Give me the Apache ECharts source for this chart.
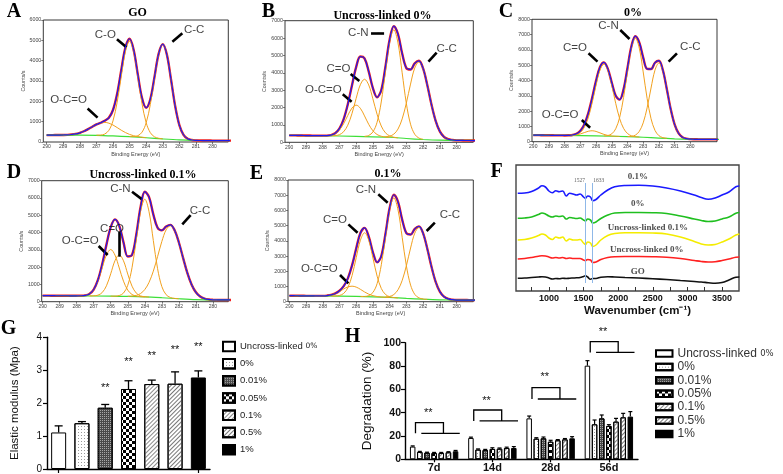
<!DOCTYPE html>
<html><head><meta charset="utf-8">
<script src="https://cdn.jsdelivr.net/npm/echarts@6/dist/echarts.min.js"></script>
<style>html,body{margin:0;padding:0;background:#fff}#c{width:783px;height:474px}</style>
</head><body><div id="c"></div>
<script>
// ---------- XPS data (binding energy grid, eV) ----------
const energy = [290,289.75,289.5,289.25,289,288.75,288.5,288.25,288,287.75,287.5,287.25,287,286.75,286.5,286.25,286,285.75,285.5,285.25,285,284.75,284.5,284.25,284,283.75,283.5,283.25,283,282.75,282.5,282.25,282,281.75,281.5,281.25,281,280.75,280.5,280.25,280,279.75,279.5,279.25,279,278.75,278.5,278.25];
const bindingTicks = [280,281,282,283,284,285,286,287,288,289,290];

const A_env = [340,340,341,342,345,352,369,397,452,529,633,752,865,941,1040,1190,1573,2368,3539,4650,5077,4514,3300,2156,1685,2105,3191,4336,4815,4289,3061,1757,832,355,163,100,80,74,72,71,70,70,70,70,70,70,70,70];
const A_base = [[290,340],[288,340],[287,330],[286,300],[285,260],[284,210],[283,150],[282,100],[281,75],[280,70],[278,70]];
const A_OCO = [[289,345],[288.5,369],[288,452],[287.5,633],[287,865],[286.5,965],[286,835],[285.5,578],[285,372],[284.5,264],[284,215]];
const A_CO = [[287,335],[286.75,341],[286.5,390],[286.25,571],[286,1038],[285.75,1949],[285.5,3241],[285.25,4458],[285,4960],[284.75,4436],[284.5,3196],[284.25,1881],[284,948],[283.75,458],[283.5,255],[283.25,184],[283,155]];
const A_CC = [[285,265],[284.75,267],[284.5,310],[284.25,483],[284,942],[283.75,1840],[283.5,3116],[283.25,4317],[283,4810],[282.75,4289],[282.5,3061],[282.25,1757],[282,832],[281.75,355],[281.5,163],[281.25,100],[281,80]];
const A_notes = [['O-C=O',288.68,2056],['C-O',286.46,5263],['C-C',281.11,5510]];
const A_arrows = [[287.53,1645,286.93,1200],[285.76,5049,285.19,4655],[281.82,5345,282.42,4934]];

const B_env = [400,398,395,393,390,388,385,383,382,386,417,523,785,1317,2176,3273,4325,4936,4834,4081,3124,2591,2997,4341,5901,6690,6234,5109,4273,4188,4544,4693,4253,3296,2178,1238,627,314,177,131,110,108,105,103,100,100,100,100];
const B_base = [[290,400],[288,380],[286,340],[284,290],[283,220],[282,160],[281,120],[280,110],[278,100]];
const B_OCO = [[288,382],[287.75,386],[287.5,413],[287.25,502],[287,706],[286.75,1066],[286.5,1542],[286.25,1969],[286,2140],[285.75,1959],[285.5,1522],[285.25,1036],[285,666],[284.75,450],[284.5,348],[284.25,309],[284,292]];
const B_CO = [[287.5,374],[287.25,386],[287,439],[286.75,606],[286.5,984],[286.25,1649],[286,2525],[285.75,3312],[285.5,3630],[285.25,3302],[285,2505],[284.75,1617],[284.5,939],[284.25,549],[284,369],[283.75,294],[283.5,259]];
const B_CN = [[285.5,342],[285.25,393],[285,593],[284.75,1150],[284.5,2320],[284.25,4061],[284,5758],[283.75,6473],[283.5,5723],[283.25,4001],[283,2235],[282.75,1042],[282.5,463],[282.25,243],[282,172]];
const B_CC = [[284.25,316],[284,352],[283.75,469],[283.5,762],[283.25,1346],[283,2258],[282.75,3351],[282.5,4271],[282.25,4625],[282,4241],[281.75,3296],[281.5,2178],[281.25,1238],[281,627],[280.75,314],[280.5,177],[280.25,131]];
const B_notes = [['C-N',285.87,6329],['C=O',287.06,4258],['O-C=O',287.96,3049],['C-C',280.59,5408]];
const B_arrows = [[285.11,6272,284.33,6272],[286.33,3932,285.81,3529],[286.8,2762,286.27,2340],[281.19,5159,281.68,4641]];

const C_env = [430,428,425,423,420,418,415,413,410,417,439,514,714,1131,1851,2868,3994,4885,5185,4759,3853,3000,2753,3422,4813,6233,6897,6495,5501,4762,4747,5163,5295,4687,3467,2139,1131,555,293,197,166,158,155,153,150,150,150,150];
const C_base = [[290,430],[288,410],[286,380],[284,330],[283,290],[282,240],[281,190],[280,160],[279,150],[278,150]];
const C_OCO = [[288,410],[287.5,420],[287.25,448],[287,507],[286.75,595],[286.5,681],[286.25,715],[286,671],[285.75,575],[285.5,477],[285.25,410],[285,375],[284.5,345]];
const C_CO = [[287.75,413],[287.5,424],[287.25,469],[287,607],[286.75,931],[286.5,1560],[286.25,2538],[286,3703],[285.75,4685],[285.5,5070],[285.25,4675],[285,3683],[284.75,2506],[284.5,1515],[284.25,874],[284,537],[283.75,386],[283.5,329],[283.25,305]];
const C_CN = [[285.5,378],[285.25,404],[285,515],[284.75,843],[284.5,1583],[284.25,2886],[284,4600],[283.75,6138],[283.5,6760],[283.25,6118],[283,4560],[282.75,2826],[282.5,1503],[282.25,743],[282,395],[281.75,267],[281.5,223]];
const C_CC = [[284,336],[283.75,349],[283.5,428],[283.25,672],[283,1231],[282.75,2214],[282.5,3509],[282.25,4673],[282,5140],[281.75,4648],[281.5,3459],[281.25,2139],[281,1131],[280.75,555],[280.5,293],[280.25,197],[280,166]];
const C_notes = [['C=O',287.34,6104],['C-N',285.21,7564],['C-C',280.0,6213],['O-C=O',288.29,1744]];
const C_arrows = [[286.48,5777,285.91,5232],[284.46,7302,283.87,6714],[280.85,5777,281.38,5232],[286.91,1417,286.38,916]];

const D_env = [350,349,348,346,345,344,343,341,340,343,365,452,705,1256,2168,3302,4314,4761,4395,3434,2616,2708,3881,5459,6364,6054,5050,4275,4129,4345,4443,4132,3425,2523,1657,986,544,300,181,130,108,100,100,100,100,100,100,100];
const D_base = [[290,350],[288,340],[286,320],[285,305],[284,280],[283,230],[282,170],[281,120],[280,100],[278,100]];
const D_OCO = [[288,340],[287.75,343],[287.5,365],[287.25,452],[287,695],[286.75,1206],[286.5,1964],[286.25,2704],[286,3020],[285.75,2697],[285.5,1952],[285.25,1187],[285,670],[284.75,418],[284.5,323],[284.25,291],[284,280]];
const D_CO = [[287.25,333],[287,340],[286.75,378],[286.5,529],[286.25,921],[286,1614],[285.75,2373],[285.5,2713],[285.25,2366],[285,1599],[284.75,897],[284.5,497],[284.25,336],[284,290],[283.75,268]];
const D_CN = [[286,320],[285.75,323],[285.5,356],[285.25,499],[285,949],[284.75,1966],[284.5,3576],[284.25,5219],[284,5930],[283.75,5201],[283.5,3538],[283.25,1910],[283,874],[282.75,405],[282.5,243],[282.25,192],[282,170]];
const D_CC = [[285,313],[284.75,324],[284.5,364],[284.25,471],[284,704],[283.75,1121],[283.5,1767],[283.25,2608],[283,3485],[282.75,4155],[282.5,4400],[282.25,4125],[282,3425],[281.75,2523],[281.5,1657],[281.25,986],[281,544],[280.75,300],[280.5,181],[280.25,130],[280,108],[279.75,100]];
const D_notes = [['C-N',285.43,6556],['C=O',285.92,4242],['O-C=O',287.79,3509],['C-C',280.76,5264]];
const D_arrows = [[284.75,6363,284.16,5920],[285.47,4049,285.47,2603],[286.71,3220,286.18,2700],[281.31,5013,281.8,4474]];

const E_env = [395,393,390,388,385,383,380,381,384,402,446,543,718,1019,1536,2385,3508,4517,4853,4269,3233,2588,3005,4473,6169,7030,6563,5381,4502,4413,4791,4951,4488,3478,2298,1305,661,328,184,133,110,109,108,106,105,105,105,105];
const E_base = [[290,395],[288,375],[286,345],[285,320],[284,280],[283,220],[282,165],[281,125],[280,110],[279,105],[278,105]];
const E_OCO = [[288.5,380],[288.25,381],[288,384],[287.75,402],[287.5,446],[287.25,535],[287,672],[286.75,834],[286.5,969],[286.25,1020],[286,959],[285.75,813],[285.5,640],[285.25,493],[285,396],[284.75,339],[284.5,309],[284.25,293],[284,280]];
const E_CO = [[287.5,370],[287.25,376],[287,411],[286.75,545],[286.5,922],[286.25,1715],[286,2894],[285.75,4043],[285.5,4533],[285.25,4030],[285,2869],[284.75,1675],[284.5,867],[284.25,475],[284,326],[283.75,273],[283.5,250]];
const E_CN = [[285.75,339],[285.5,346],[285.25,398],[285,608],[284.75,1194],[284.5,2429],[284.25,4266],[284,6057],[283.75,6815],[283.5,6027],[283.25,4211],[283,2349],[282.75,1090],[282.5,481],[282.25,251],[282,178],[281.75,155]];
const E_CC = [[284.25,309],[284,346],[283.75,472],[283.5,786],[283.25,1405],[283,2373],[282.75,3529],[282.5,4503],[282.25,4879],[282,4475],[281.75,3478],[281.5,2298],[281.25,1305],[281,661],[280.75,328],[280.5,184],[280.25,133]];
const E_notes = [['C-N',285.42,7342],['C=O',287.27,5370],['C-C',280.4,5699],['O-C=O',288.21,2192]];
const E_arrows = [[284.68,7058,284.12,6510],[286.47,5085,285.92,4537],[281.3,5195,281.79,4647],[286.97,1753,286.47,1205]];

// ---------- FTIR data ----------
const ftirWn = [550,650,750,850,900,950,1000,1050,1100,1150,1200,1250,1300,1350,1400,1450,1500,1527,1560,1600,1633,1680,1750,1850,1950,2100,2300,2500,2700,2900,3100,3200,3300,3400,3500,3600,3700,3750];
const ftir01 = [97.7,98,99.5,103,105.3,104,100,98.3,100.3,99.3,100,95,97.7,97,96,97,94,92.7,95,94,90.3,91.5,96,101,104.3,105.5,105.7,105,103,100,96,93.5,91.7,93,96,99,104.3,105];
const ftir0 = [72.7,73,74,76.5,78,77,75,74,75,74.5,75,72,73.5,73,72.5,73,71,70,72,71,68,69,72.5,76,78,78.5,78.5,78.3,77.5,75,72,70.5,69.5,70,72,74,77.7,78.5];
const ftirU01 = [51,51.5,53,55.5,57,56,53,51.5,54,53,54,50,52,51,51,51.5,48,46.5,49,48,44.5,46,51,55.5,57.5,58.3,58.3,58,57,54,49.5,47,46,46.5,49,52,56,57];
const ftirU0 = [32,32.5,33.5,34.8,35.3,35,34,33,33.5,33,33.5,32.5,33,32.5,32.5,32.5,31,30.5,31.5,31,28.5,29,31.5,33.5,34.3,34.5,34.5,34.3,33.8,32.5,30.5,29.5,29,29.3,30.5,32,33.8,34];
const ftirGO = [12.7,13,13.5,14,14.3,14,13,12,12.5,12.3,12.8,12.5,12.8,13,13.2,13.5,14.5,15.2,14,11.7,12.5,12.5,13.8,14.3,14,13.5,13,12.3,11.5,10.5,9.5,9,8.3,7.7,8.5,11,13.7,14];
const ftirPeaks = [1527, 1633];
const ftirTickLabels = [1000,1500,2000,2500,3000,3500];
const ftirTicks = [750,1000,1250,1500,1750,2000,2250,2500,2750,3000,3250,3500];
const ftirNames = [['0.1%',2284,114],['0%',2284,87],['Uncross-linked 0.1%',2429,63],['Uncross-linked 0%',2414,41],['GO',2284,19]];

// ---------- Elastic modulus (G) ----------
const groupNames = ['Uncross-linked 0%','0%','0.01%','0.05%','0.1%','0.5%','1%'];
const gMean = [1.11,1.39,1.86,2.43,2.58,2.59,2.78];
const gErr = [1.31,1.44,1.96,2.68,2.70,2.95,2.98];
const gStarY = [null,null,2.45,3.26,3.44,3.62,3.72];

// ---------- Degradation (H) ----------
const hDays = ['7d','14d','28d','56d'];
const hMean = [
  [10.9,18.3,35.1,80.3],
  [6.3,8.3,17.7,30.0],
  [5.7,8.0,18.0,35.1],
  [5.4,8.9,15.1,28.6],
  [5.4,9.1,16.3,32.3],
  [6.0,9.7,17.1,36.0],
  [6.9,9.7,18.0,36.6]
];
const hErr = [
  [11.5,19.0,37.1,84.6],
  [6.8,8.9,18.5,33.7],
  [6.1,8.5,19.1,38.0],
  [5.9,9.9,16.3,29.7],
  [5.9,9.7,16.9,35.1],
  [6.5,10.4,17.8,39.4],
  [7.6,10.9,19.4,40.9]
];
const hBracketBase = [22.3,32.9,51.7,91.7];
const hBracketTop = [31.4,42.3,61.4,100.9];
const hStarY = [39.5,50,70.3,109.4];

// ---------- styles ----------
const RED='#f01e1e', BLUE='#1c1cf0', ORANGE='#f2a11e', GREEN='#3ddf38';
const SANS='"Liberation Sans", Arial, sans-serif', SERIF='"Liberation Serif", "Times New Roman", serif';
const plainNum = v => String(v);
const barStyles = [
  {color:'#ffffff'},
  {color:'#ffffff', decal:{symbol:'rect', symbolSize:1, dashArrayX:[1,1.5], dashArrayY:[1,1.5], color:'#9a9a9a'}},
  {color:'#4a4a4a', decal:{symbol:'rect', symbolSize:1, dashArrayX:[1,1], dashArrayY:[1,1], color:'#a8a8a8'}},
  {color:'#ffffff', decal:{symbol:'rect', symbolSize:1, dashArrayX:[[3,3],[0,3,3,0]], dashArrayY:[3,0], color:'#000'}},
  {color:'#ffffff', decal:{symbol:'rect', symbolSize:1, rotation:-Math.PI/4, dashArrayX:[1,0], dashArrayY:[1,2], color:'#8a8a8a'}},
  {color:'#ffffff', decal:{symbol:'rect', symbolSize:1, rotation:-Math.PI/4, dashArrayX:[1,0], dashArrayY:[1,1.2], color:'#777'}},
  {color:'#000000'}
];

const xps = [
  {grid:{left:43.3, top:20, width:185, height:122}, min:279.05, max:290.2, ymax:6000, env:A_env, base:A_base, comps:[A_OCO,A_CO,A_CC], notes:A_notes, arrows:A_arrows},
  {grid:{left:285, top:20.7, width:188.3, height:121.6}, min:279, max:290.25, ymax:7000, env:B_env, base:B_base, comps:[B_OCO,B_CO,B_CN,B_CC], notes:B_notes, arrows:B_arrows},
  {grid:{left:532, top:19.3, width:185, height:122.4}, min:278.3, max:290.08, ymax:8000, env:C_env, base:C_base, comps:[C_OCO,C_CO,C_CN,C_CC], notes:C_notes, arrows:C_arrows},
  {grid:{left:41.7, top:180.7, width:186.6, height:121}, min:279.1, max:290.05, ymax:7000, env:D_env, base:D_base, comps:[D_OCO,D_CO,D_CN,D_CC], notes:D_notes, arrows:D_arrows},
  {grid:{left:288, top:180, width:185.3, height:121.7}, min:279, max:290.08, ymax:8000, env:E_env, base:E_base, comps:[E_OCO,E_CO,E_CN,E_CC], notes:E_notes, arrows:E_arrows}
];

const grids=[], xAxes=[], yAxes=[], series=[];
xps.forEach((p,k)=>{
  grids.push(Object.assign({show:true, borderColor:'#222', borderWidth:0.9, backgroundColor:'#fff'}, p.grid));
  xAxes.push({type:'value', gridIndex:k, inverse:true, min:p.min, max:p.max,
    axisLine:{show:false}, splitLine:{show:false},
    axisTick:{show:true, length:2, customValues:bindingTicks, lineStyle:{color:'#444', width:0.7}},
    axisLabel:{customValues:bindingTicks, formatter:plainNum, fontSize:5, color:'#444', margin:2.5, fontFamily:SANS},
    name:'Binding Energy (eV)', nameLocation:'middle', nameGap:9, nameTextStyle:{fontSize:5.5, color:'#444', fontFamily:SANS}});
  yAxes.push({type:'value', gridIndex:k, min:0, max:p.ymax, interval:1000,
    axisLine:{show:false}, splitLine:{show:false},
    axisTick:{show:true, length:2, lineStyle:{color:'#444', width:0.7}},
    axisLabel:{formatter:plainNum, fontSize:5.3, color:'#444', margin:2, fontFamily:SANS},
    name:'Counts/s', nameLocation:'middle', nameGap:17, nameTextStyle:{fontSize:5.3, color:'#444', fontFamily:SANS}});
  const envPairs = energy.map((e,i)=>[e,p.env[i]]);
  series.push({type:'line', xAxisIndex:k, yAxisIndex:k, data:envPairs, showSymbol:false, smooth:0.35, lineStyle:{color:RED, width:2.4}, z:2, silent:true});
  series.push({type:'line', xAxisIndex:k, yAxisIndex:k, data:p.base, showSymbol:false, smooth:0.3, lineStyle:{color:GREEN, width:1.2}, z:3, silent:true});
  p.comps.forEach(c=>series.push({type:'line', xAxisIndex:k, yAxisIndex:k, data:c, showSymbol:false, smooth:0.35, lineStyle:{color:ORANGE, width:1}, z:4, silent:true}));
  series.push({type:'line', xAxisIndex:k, yAxisIndex:k, data:envPairs, showSymbol:false, smooth:0.35, lineStyle:{color:BLUE, width:1.2}, z:5, silent:true});
  series.push({type:'scatter', xAxisIndex:k, yAxisIndex:k, z:6, silent:true,
    data:p.notes.map(n=>({name:n[0], value:[n[1],n[2]]})), symbolSize:1, itemStyle:{color:'rgba(0,0,0,0)'},
    label:{show:true, position:'inside', formatter:'{b}', fontSize:11.5, color:'#111', fontFamily:SANS},
    markLine:{silent:true, symbol:['none','arrow'], symbolSize:[1,7], animation:false,
      lineStyle:{color:'#000', width:2.6, type:'solid'}, label:{show:false},
      data:p.arrows.map(a=>[{coord:[a[0],a[1]]},{coord:[a[2],a[3]]}])}});
});

// ----- F (FTIR) -----
grids.push({left:516, top:165, width:223, height:126, show:true, borderColor:'#444', borderWidth:1.4});
xAxes.push({type:'value', gridIndex:5, min:525, max:3745, axisLine:{show:false}, splitLine:{show:false},
  axisTick:{show:true, inside:true, length:4, customValues:ftirTicks, lineStyle:{color:'#333'}},
  axisLabel:{customValues:ftirTickLabels, formatter:plainNum, fontSize:9, fontWeight:'bold', color:'#111', margin:3, fontFamily:SANS},
  name:'Wavenumber (cm⁻¹)', nameLocation:'middle', nameGap:14,
  nameTextStyle:{fontSize:11.5, fontWeight:'bold', color:'#111', fontFamily:SANS, padding:[0,0,0,20]}});
yAxes.push({type:'value', gridIndex:5, min:0, max:126, show:false});
const ftirSets = [[ftir01,'#1a1aff'],[ftir0,'#1fbf1f'],[ftirU01,'#f4ec00'],[ftirU0,'#ff2020'],[ftirGO,'#111111']];
ftirSets.forEach(s=>series.push({type:'line', xAxisIndex:5, yAxisIndex:5, data:ftirWn.map((w,i)=>[w,s[0][i]]), showSymbol:false, smooth:0.4, lineStyle:{color:s[1], width:1.6}, z:3, silent:true}));
series.push({type:'scatter', xAxisIndex:5, yAxisIndex:5, silent:true, z:6, symbolSize:1, itemStyle:{color:'rgba(0,0,0,0)'},
  data:ftirNames.map(n=>({name:n[0], value:[n[1],n[2]]})),
  label:{show:true, position:'inside', formatter:'{b}', fontSize:9, fontWeight:'bold', color:'#222', fontFamily:SERIF},
  markLine:{silent:true, symbol:['none','none'], animation:false, lineStyle:{color:'#8fb8e8', width:1, type:'solid'}, label:{show:false},
    data:ftirPeaks.map(w=>[{coord:[w,8]},{coord:[w,108]}])}});
series.push({type:'scatter', xAxisIndex:5, yAxisIndex:5, silent:true, z:6, symbolSize:1, itemStyle:{color:'rgba(0,0,0,0)'},
  data:[{name:String(ftirPeaks[0]), value:[ftirPeaks[0],110], label:{position:'left', distance:0}},
        {name:String(ftirPeaks[1]), value:[ftirPeaks[1],110], label:{position:'right', distance:0}}],
  label:{show:true, formatter:'{b}', fontSize:5.5, color:'#333', fontFamily:SERIF}});

// ----- G (elastic modulus) -----
grids.push({left:47, top:337.3, width:163, height:131.7});
xAxes.push({type:'category', gridIndex:6, data:groupNames, axisLabel:{show:false},
  axisTick:{show:true, alignWithLabel:true, length:4, lineStyle:{color:'#000', width:1.2}},
  axisLine:{lineStyle:{color:'#000', width:1.4}}});
yAxes.push({type:'value', gridIndex:6, min:0, max:4, interval:1, splitLine:{show:false},
  axisLine:{show:true, lineStyle:{color:'#000', width:1.4}}, axisTick:{show:true, length:4, lineStyle:{color:'#000', width:1.2}},
  axisLabel:{fontSize:10, color:'#111', margin:5, fontFamily:SANS},
  name:'Elastic modulus (Mpa)', nameLocation:'middle', nameGap:26, nameTextStyle:{fontSize:11.5, color:'#111', fontFamily:SANS}});
groupNames.forEach((nm,i)=>series.push({type:'bar', name:nm, xAxisIndex:6, yAxisIndex:6, barWidth:15, barGap:'-100%',
  data:gMean.map((v,j)=>j===i?v:'-'), itemStyle:Object.assign({borderColor:'#000', borderWidth:1}, barStyles[i]), silent:true, z:3}));
series.push({type:'custom', xAxisIndex:6, yAxisIndex:6, silent:true, z:5, clip:false,
  data:gMean.map((v,i)=>[i,v,gErr[i]]),
  renderItem:(params,api)=>{
    const a=api.coord([api.value(0),api.value(1)]), b=api.coord([api.value(0),api.value(2)]);
    return {type:'group', children:[
      {type:'line', shape:{x1:a[0],y1:a[1],x2:b[0],y2:b[1]}, style:{stroke:'#000', lineWidth:1.3}},
      {type:'line', shape:{x1:b[0]-4,y1:b[1],x2:b[0]+4,y2:b[1]}, style:{stroke:'#000', lineWidth:1.3}}]};
  }});
series.push({type:'custom', xAxisIndex:6, yAxisIndex:6, silent:true, z:5, clip:false,
  data:gStarY.map((y,i)=>[i,y]).filter(d=>d[1]!=null),
  renderItem:(params,api)=>{
    const c=api.coord([api.value(0),api.value(1)]);
    return {type:'text', x:c[0], y:c[1], style:{text:'**', fill:'#111', font:'11px '+SANS, align:'center', verticalAlign:'middle'}};
  }});

// ----- H (degradation) -----
grids.push({left:405, top:342.7, width:233, height:116.6});
xAxes.push({type:'category', gridIndex:7, data:hDays,
  axisLabel:{fontSize:11, fontWeight:'bold', color:'#111', margin:3, fontFamily:SANS},
  axisTick:{show:true, alignWithLabel:true, length:3, lineStyle:{color:'#000', width:1.2}},
  axisLine:{lineStyle:{color:'#000', width:1.4}}});
yAxes.push({type:'value', gridIndex:7, min:0, max:100, interval:20, splitLine:{show:false},
  axisLine:{show:true, lineStyle:{color:'#000', width:1.4}}, axisTick:{show:true, length:4, lineStyle:{color:'#000', width:1.2}},
  axisLabel:{fontSize:10.5, fontWeight:'bold', color:'#111', margin:4, fontFamily:SANS},
  name:'Degradation (%)', nameLocation:'middle', nameGap:31, nameTextStyle:{fontSize:13.5, color:'#111', fontFamily:SANS}});
const H_BW = 5.5, H_GAP = 0.3;
groupNames.forEach((nm,k)=>series.push({type:'bar', name:nm, xAxisIndex:7, yAxisIndex:7, barWidth:H_BW, barGap:(H_GAP*100)+'%',
  data:hMean[k], itemStyle:Object.assign({borderColor:'#000', borderWidth:1}, barStyles[k]), silent:true, z:3}));
const hErrData=[]; hMean.forEach((arr,k)=>arr.forEach((v,i)=>hErrData.push([i,k,v,hErr[k][i]])));
series.push({type:'custom', xAxisIndex:7, yAxisIndex:7, silent:true, z:5, clip:false, data:hErrData,
  renderItem:(params,api)=>{
    const a=api.coord([api.value(0),api.value(2)]), b=api.coord([api.value(0),api.value(3)]);
    const x=a[0]+(api.value(1)-3)*H_BW*(1+H_GAP);
    return {type:'group', children:[
      {type:'line', shape:{x1:x,y1:a[1],x2:x,y2:b[1]}, style:{stroke:'#000', lineWidth:1.2}},
      {type:'line', shape:{x1:x-2,y1:b[1],x2:x+2,y2:b[1]}, style:{stroke:'#000', lineWidth:1.2}}]};
  }});
series.push({type:'custom', xAxisIndex:7, yAxisIndex:7, silent:true, z:5, clip:false,
  data:hBracketBase.map((b,i)=>[i,b,hBracketTop[i],hStarY[i]]),
  renderItem:(params,api)=>{
    const band=api.size([1,0])[0];
    const c=api.coord([api.value(0),api.value(1)]), t=api.coord([api.value(0),api.value(2)]), s=api.coord([api.value(0),api.value(3)]);
    const xl=c[0]-0.32*band, xr=c[0]+0.16*band;
    return {type:'group', children:[
      {type:'polyline', shape:{points:[[xl,c[1]],[xl,t[1]],[xr,t[1]],[xr,c[1]]]}, style:{stroke:'#000', lineWidth:1.3, fill:null}},
      {type:'line', shape:{x1:c[0]-0.22*band,y1:c[1],x2:c[0]+0.44*band,y2:c[1]}, style:{stroke:'#000', lineWidth:1.3}},
      {type:'text', x:c[0]-0.1*band, y:s[1], style:{text:'**', fill:'#111', font:'11px '+SANS, align:'center', verticalAlign:'middle'}}]};
  }});

const legendFmt = n => n==='Uncross-linked 0%' ? 'Uncross-linked {s|0%}' : n;
const legends = [
  {data:groupNames, orient:'vertical', left:222, top:340.7, itemWidth:12, itemHeight:9.5, itemGap:5.7, icon:'rect', padding:0,
   selectedMode:false, formatter:legendFmt, textStyle:{fontSize:9.5, color:'#222', fontFamily:SANS, lineHeight:10, rich:{s:{fontSize:7.5, color:'#222', fontFamily:'DejaVu Sans'}}}},
  {data:groupNames, orient:'vertical', left:655, top:347.5, itemWidth:16.5, itemHeight:6.5, itemGap:1.4, icon:'rect', padding:0,
   selectedMode:false, formatter:legendFmt, textStyle:{fontSize:12, color:'#333', fontFamily:SANS, lineHeight:12, rich:{s:{fontSize:8.5, color:'#333', fontFamily:'DejaVu Sans'}}}}
];

const L = 'bold 20px '+SERIF, T = 'bold 12px '+SERIF;
const txt = (s,x,y,font)=>({type:'text', x:x, y:y, silent:true, style:{text:s, font:font, fill:'#000', align:'center', verticalAlign:'middle'}});
const graphic = [
  txt('A',14,11.5,L), txt('B',268.5,11.5,L), txt('C',506,11.5,L), txt('D',14,173,L), txt('E',256.5,173.5,L), txt('F',496.5,171.5,L), txt('G',8.5,328.5,L), txt('H',352.5,336.5,L),
  txt('GO',137.5,12.5,T), txt('Uncross-linked 0%',382.5,16,T), txt('0%',633,12.5,T), txt('Uncross-linked 0.1%',143,175,T), txt('0.1%',388,174,T)
];

const chart = echarts.init(document.getElementById('c'), null, {renderer:'canvas'});
chart.setOption({animation:false, backgroundColor:'#fff', grid:grids, xAxis:xAxes, yAxis:yAxes, series:series, legend:legends, graphic:graphic});
</script></body></html>
